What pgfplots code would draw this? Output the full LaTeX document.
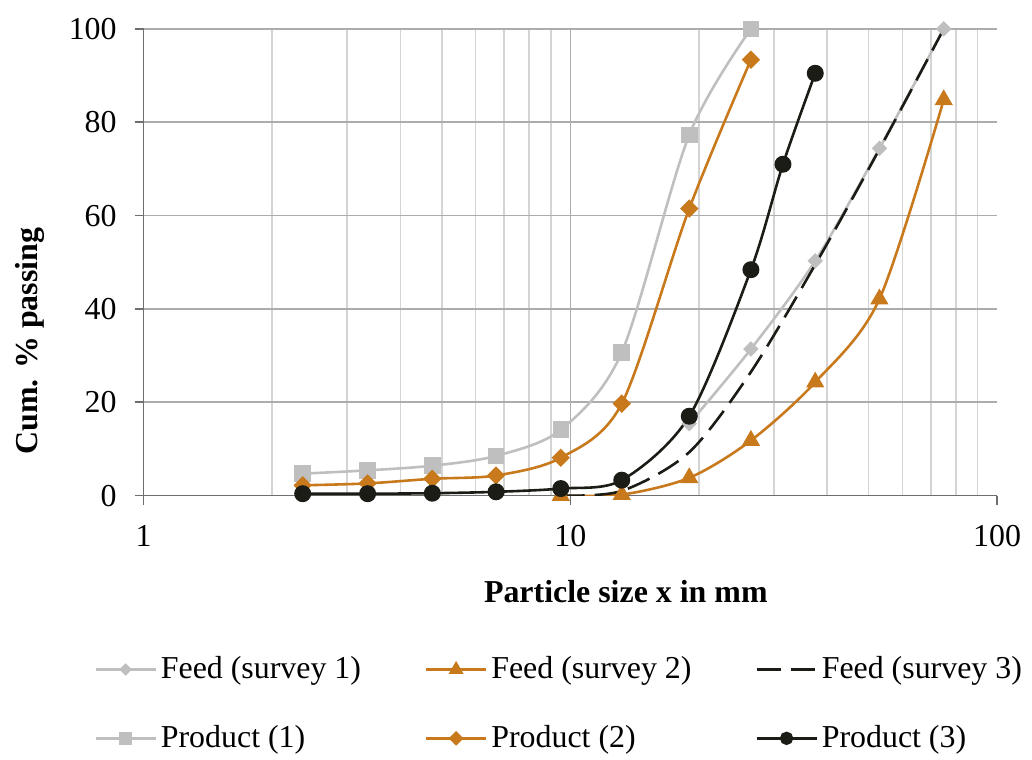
\documentclass[border=0pt]{standalone}
\usepackage{fontspec}
\setmainfont{Liberation Serif}
\usepackage{pgfplots}
\pgfplotsset{compat=1.18}

\definecolor{lgray}{RGB}{191,191,191}
\definecolor{orng}{RGB}{200,121,28}
\definecolor{blk}{RGB}{28,28,22}
\definecolor{axisgray}{RGB}{110,110,110}
\definecolor{gridgray}{RGB}{172,172,172}
\definecolor{mgridgray}{RGB}{212,212,212}

\begin{document}
\fontsize{16}{19}\selectfont
\begin{tikzpicture}
\begin{semilogxaxis}[
    scale only axis,
    width=428pt, height=234pt,
    xmin=1, xmax=100, ymin=0, ymax=100,
    ytick={0,20,40,60,80,100},
    log ticks with fixed point,
    /pgf/number format/assume math mode=true,
    axis lines*=left,
    axis line style={draw=axisgray, line width=0.8pt},
    tick align=outside,
    major tick length=4.5pt,
    minor tick length=0pt,
    tick style={axisgray, line width=0.8pt},
    xminorgrids, ymajorgrids,
    major grid style={gridgray, line width=0.8pt},
    minor grid style={mgridgray, line width=0.8pt},
    extra x ticks={10},
    extra x tick labels={},
    extra x tick style={xmajorgrids=true, major tick length=0pt},
    xticklabel style={yshift=-5pt},
    yticklabel style={xshift=-3.5pt},
    xlabel={\textbf{Particle size x in mm}},
    ylabel={\textbf{Cum. \% passing}},
    xlabel style={at={(axis description cs:0.565,-0.205)}, anchor=center},
    ylabel style={at={(axis description cs:-0.133,0.331)}, anchor=center},
    legend columns=3,
    legend cell align=left,
    legend style={draw=none, fill=none, at={(axis description cs:-0.065,-0.326)}, anchor=north west,
        row sep=17pt, /tikz/every even column/.append style={column sep=30pt}},
    legend image code/.code={\draw[mark repeat=2, mark phase=2, #1, every mark/.append style={scale=0.75}]
        plot coordinates {(0pt,0pt) (15pt,0pt) (30pt,0pt)};},
]
% Feed (survey 1)
\addplot[lgray, line width=1.3pt, smooth, mark=square*, mark size=2.1pt, mark options={rotate=45, fill=lgray}]
coordinates {(19,15.4) (26.5,31.4) (37.5,50.3) (53,74.4) (75,100)};
\addlegendentry{Feed (survey 1)}
% Feed (survey 2)
\addplot[orng, line width=1.3pt, smooth, mark=triangle*, mark size=4pt, mark options={fill=orng}]
coordinates {(9.5,0) (13.2,0.2) (19,3.8) (26.5,11.8) (37.5,24.3) (53,42.1) (75,84.8)};
\addlegendentry{Feed (survey 2)}
% Feed (survey 3)
\addplot[blk, line width=1.3pt, smooth, dash pattern=on 12pt off 5pt]
coordinates {(9.5,0) (13.2,1) (19,9.3) (26.5,26.5) (37.5,49.5) (53,74.2) (75,100)};
\addlegendentry{Feed (survey 3)}
% Product (1)
\addplot[lgray, line width=1.3pt, smooth, mark=square*, mark size=3.5pt, mark options={fill=lgray}]
coordinates {(2.36,4.7) (3.35,5.4) (4.75,6.4) (6.7,8.5) (9.5,14.1) (13.2,30.7) (19,77.3) (26.5,100)};
\addlegendentry{Product (1)}
% Product (2)
\addplot[orng, line width=1.3pt, smooth, mark=square*, mark size=2.6pt, mark options={rotate=45, fill=orng}]
coordinates {(2.36,2.2) (3.35,2.6) (4.75,3.6) (6.7,4.3) (9.5,8.1) (13.2,19.7) (19,61.5) (26.5,93.4)};
\addlegendentry{Product (2)}
% Product (3)
\addplot[blk, line width=1.3pt, smooth, mark=*, mark size=3.6pt, mark options={fill=blk}]
coordinates {(2.36,0.4) (3.35,0.4) (4.75,0.5) (6.7,0.8) (9.5,1.5) (13.2,3.3) (19,17.0) (26.5,48.4) (31.5,71.0) (37.5,90.5)};
\addlegendentry{Product (3)}
\coordinate (bl) at (rel axis cs:-0.1682,-0.5427);
\coordinate (tr) at (rel axis cs:1.0374,1.062);
\end{semilogxaxis}
\path (bl) rectangle (tr);
\end{tikzpicture}
\end{document}
